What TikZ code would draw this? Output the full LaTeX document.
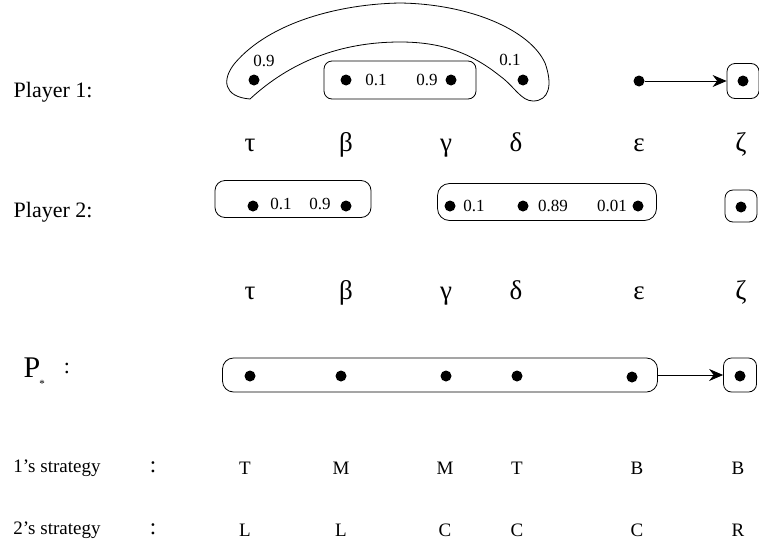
\documentclass[tikz,border=0pt]{standalone}
\usepackage{fontspec}
\setmainfont{Liberation Serif}
\usepackage{tikz}
\usetikzlibrary{arrows.meta,positioning}

\begin{document}
\begin{tikzpicture}[
    x=1pt, y=-1pt,
    line width=0.8pt,
    >={Stealth[length=14pt,width=12pt]},
    dot/.style={circle, fill=black, inner sep=0pt, minimum size=11pt},
    infobox/.style={draw, rectangle, rounded corners=8pt, inner sep=0pt},
    prob/.style={font=\fontsize{17}{19}\selectfont},
    greek/.style={font=\fontsize{27}{29}\selectfont, anchor=base},
    player/.style={font=\fontsize{22}{24}\selectfont, anchor=base west},
    strat/.style={font=\fontsize{19}{21}\selectfont}
]
\useasboundingbox (0,0) rectangle (759,549);

% Player 1 row
\node[player] (pl1) at (10,97) {Player 1:};
\draw (250,99) .. controls (224,97) and (221,80) .. (235,63)
    .. controls (270,22) and (340,4) .. (400,3)
    .. controls (470,4) and (530,30) .. (545,63)
    .. controls (553,85) and (549,101) .. (533,101)
    .. controls (521,101) and (514,86) .. (500,76)
    .. controls (470,52) and (440,42) .. (400,42)
    .. controls (340,42) and (290,62) .. (250,99) -- cycle;
\node[infobox, minimum width=152pt, minimum height=38pt] (bg1) at (400,80) {};
\node[dot] (t1) at (254,80) {};
\node[dot] (b1) at (346,80) {};
\node[dot] (g1) at (451,80) {};
\node[dot] (d1) at (523,80) {};
\node[dot] (e1) at (639,81) {};
\node[infobox, minimum width=32pt, minimum height=35pt] (zbox1) at (743,81) {};
\node[dot] (z1) at (743,81) {};
\node[prob] (q1) at (264,61) {0.9};
\node[prob] (q2) at (376,80) {0.1};
\node[prob] (q3) at (427,80) {0.9};
\node[prob] (q4) at (510,60) {0.1};
\draw[->] (e1) -- (zbox1);

% Greek labels
\foreach \gx/\gl [count=\i] in {250/τ,346/β,446/γ,516/δ,639/ε,741/ζ}{
  \node[greek] (ga\i) at (\gx,151) {\gl};
  \node[greek] (gb\i) at (\gx,299) {\gl};
}

% Player 2 row
\node[player] (pl2) at (10,217) {Player 2:};
\node[infobox, rounded corners=10pt, minimum width=156pt, minimum height=37pt] (tb2) at (293,199) {};
\node[infobox, rounded corners=12pt, minimum width=219pt, minimum height=37pt] (gde2) at (547,202) {};
\node[infobox, minimum width=32pt, minimum height=32pt] (zbox2) at (741,206) {};
\node[dot] (t2) at (253,206) {};
\node[dot] (b2) at (346,206) {};
\node[dot] (g2) at (450,206) {};
\node[dot] (d2) at (523,206) {};
\node[dot] (e2) at (638,206) {};
\node[dot] (z2) at (741,207) {};
\node[prob] (r1) at (281,204) {0.1};
\node[prob] (r2) at (320,204) {0.9};
\node[prob] (r3) at (474,206) {0.1};
\node[prob] (r4) at (553,206) {0.89};
\node[prob] (r5) at (612,206) {0.01};

% P* row
\node[font=\fontsize{30}{32}\selectfont, anchor=base west] (pst) at (20,377) {P};
\node[font=\fontsize{11}{12}\selectfont] (pstar) at (42,384) {*};
\node[font=\fontsize{22}{24}\selectfont] (pcol) at (67,368) {:};
\node[infobox, rounded corners=11pt, minimum width=435pt, minimum height=34pt] (pbox) at (440,375) {};
\node[infobox, minimum width=33pt, minimum height=34pt] (zbox3) at (740,375) {};
\node[dot] (t3) at (250,376) {};
\node[dot] (b3) at (341,376) {};
\node[dot] (g3) at (446,376) {};
\node[dot] (d3) at (517,376) {};
\node[dot] (e3) at (632,377) {};
\node[dot] (z3) at (740,376) {};
\draw[->] (pbox) -- (zbox3);

% strategies
\node[strat] (s1) at (57,468) {1's strategy};
\node[strat] (s2) at (57,530) {2's strategy};
\node[font=\fontsize{23}{25}\selectfont] (c1) at (153,467) {:};
\node[font=\fontsize{23}{25}\selectfont] (c2) at (153,529) {:};
\foreach \sx/\sa/\sb [count=\i] in {245/T/L,341/M/L,445/M/C,517/T/C,637/B/C,738/B/R}{
  \node[strat] (sa\i) at (\sx,468) {\sa};
  \node[strat] (sb\i) at (\sx,530) {\sb};
}
\end{tikzpicture}
\end{document}
